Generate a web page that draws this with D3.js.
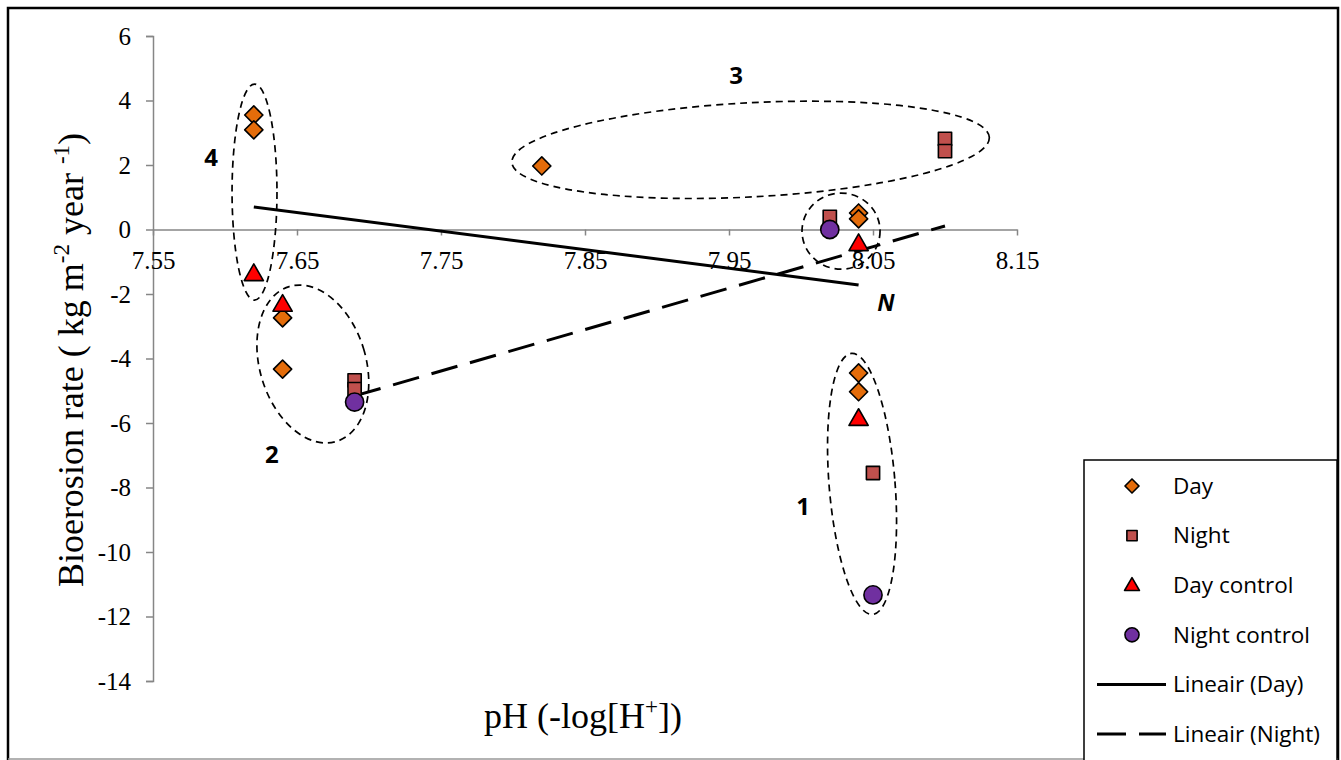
<!DOCTYPE html>
<html>
<head>
<meta charset="utf-8">
<script src="https://cdnjs.cloudflare.com/ajax/libs/d3/7.8.5/d3.min.js"></script>
<style>
  body { margin: 0; background: #fff; }
  svg { display: block; }
</style>
</head>
<body>
<div id="chart"></div>
<script>
// values: [pH, bioerosion rate]
var day = [[7.62, 3.55], [7.62, 3.09], [7.64, -2.74], [7.64, -4.33], [7.82, 1.97],
           [8.04, 0.51], [8.04, 0.33], [8.04, -4.45], [8.04, -5.03]];
var night = [[7.69, -4.68], [7.69, -4.95], [8.10, 2.81], [8.10, 2.43], [8.02, 0.39], [8.05, -7.55]];
var dayControl = [[7.62, -1.35], [7.64, -2.30], [8.04, -0.42], [8.04, -5.84]];
var nightControl = [[7.69, -5.35], [8.02, 0.0], [8.05, -11.33]];

// trend line end points (Excel "Lineair")
var dayTrend = [[7.62, 0.70], [8.04, -1.72]];
var nightTrend = [[7.69, -5.16], [8.10, 0.11]];

var xTicks = [7.55, 7.65, 7.75, 7.85, 7.95, 8.05, 8.15];
var yTicks = [6, 4, 2, 0, -2, -4, -6, -8, -10, -12, -14];

// group ellipses: centre [pH, rate], half widths in pH / rate units, tilt in degrees
var groups = [
  { label: "4", cx: 7.6205, cy: 1.16, rx: 0.0156, ry: 3.35, tilt: 0, lx: 7.5903, ly: 2.22 },
  { label: "2", cx: 7.661, cy: -4.17, rx: 0.0368, ry: 2.51, tilt: -17, lx: 7.6326, ly: -6.99 },
  { label: "3", cx: 7.965, cy: 2.47, rx: 0.166, ry: 1.46, tilt: -3, lx: 7.955, ly: 4.76 },
  { label: "", cx: 8.0278, cy: -0.05, rx: 0.0271, ry: 1.18, tilt: 0, lx: 0, ly: 0 },
  { label: "1", cx: 8.0424, cy: -7.89, rx: 0.0229, ry: 4.06, tilt: -4.6, lx: 8.0014, ly: -8.6 }
];

var legendNames = ["Day", "Night", "Day control", "Night control", "Lineair (Day)", "Lineair (Night)"];

var width = 1341,
    height = 760;

var svg = d3.select("#chart")
    .append("svg")
    .attr("width", width)
    .attr("height", height);

// outer frame
svg.append("path")
    .attr("d", "M8,760 L8,8 L1338,8 L1338,760")
    .attr("fill", "none")
    .attr("stroke", "#000")
    .attr("stroke-width", 2.5);
svg.append("line")
    .attr("x1", 8).attr("x2", 1338).attr("y1", 759).attr("y2", 759)
    .attr("stroke", "#999").attr("stroke-width", 1.5);

var x = d3.scaleLinear().domain([7.55, 8.15]).range([153, 1017]);
var y = d3.scaleLinear().domain([-14, 6]).range([681, 36]);

var axisColor = "#868686";
var serif = "'Liberation Serif', 'Times New Roman', serif";
var sans = "'Open Sans', 'Noto Sans', sans-serif";

// y axis (plain hyphen for negatives, like the original)
var yAxis = svg.append("g")
    .attr("transform", "translate(" + x(7.55) + ",0)")
    .call(d3.axisLeft(y).tickValues(yTicks).tickSize(7).tickSizeOuter(7)
        .tickFormat(function (d) { return String(d); }));
yAxis.selectAll("path, line").attr("stroke", axisColor).attr("stroke-width", 1.5);
yAxis.selectAll("text")
    .attr("x", -22)
    .style("font-family", serif)
    .style("font-size", "25px")
    .attr("fill", "#000");

// x axis on the zero line
var xAxis = svg.append("g")
    .attr("transform", "translate(0," + y(0) + ")")
    .call(d3.axisBottom(x).tickValues(xTicks).tickSize(6).tickSizeOuter(0).tickFormat(d3.format(".2f")));
xAxis.selectAll("path, line").attr("stroke", axisColor).attr("stroke-width", 1.5);
xAxis.selectAll("text")
    .attr("y", 22)
    .style("font-family", serif)
    .style("font-size", "25px")
    .attr("fill", "#000");

// axis titles
var yTitle = svg.append("text")
    .attr("transform", "translate(83,360) rotate(-90)")
    .attr("text-anchor", "middle")
    .style("font-family", serif)
    .style("font-size", "36px");
yTitle.append("tspan").text("Bioerosion rate ( kg m");
yTitle.append("tspan").attr("dy", -14).style("font-size", "23px").text("-2");
yTitle.append("tspan").attr("dy", 14).text(" year ");
yTitle.append("tspan").attr("dy", -14).style("font-size", "23px").text("-1");
yTitle.append("tspan").attr("dy", 14).text(")");

var xTitle = svg.append("text")
    .attr("x", 583)
    .attr("y", 728)
    .attr("text-anchor", "middle")
    .style("font-family", serif)
    .style("font-size", "36px");
xTitle.append("tspan").text("pH (-log[H");
xTitle.append("tspan").attr("dy", -14).style("font-size", "23px").text("+");
xTitle.append("tspan").attr("dy", 14).text("])");

// dashed group ellipses
var pxPerX = x(1) - x(0),
    pxPerY = y(0) - y(1);
svg.selectAll(".group")
    .data(groups)
    .enter().append("ellipse")
    .attr("class", "group")
    .attr("transform", function (d) {
        return "translate(" + x(d.cx) + "," + y(d.cy) + ") rotate(" + d.tilt + ")";
    })
    .attr("rx", function (d) { return d.rx * pxPerX; })
    .attr("ry", function (d) { return d.ry * pxPerY; })
    .attr("fill", "none")
    .attr("stroke", "#000")
    .attr("stroke-width", 1.7)
    .attr("stroke-dasharray", "7,5");

svg.selectAll(".group-label")
    .data(groups.filter(function (d) { return d.label !== ""; }))
    .enter().append("text")
    .attr("class", "group-label")
    .attr("x", function (d) { return x(d.lx); })
    .attr("y", function (d) { return y(d.ly); })
    .attr("dy", "0.35em")
    .attr("text-anchor", "middle")
    .style("font-family", sans)
    .style("font-weight", "bold")
    .style("font-size", "24px")
    .text(function (d) { return d.label; });

// trend lines
var line = d3.line()
    .x(function (d) { return x(d[0]); })
    .y(function (d) { return y(d[1]); });

svg.append("path")
    .datum(dayTrend)
    .attr("d", line)
    .attr("fill", "none")
    .attr("stroke", "#000")
    .attr("stroke-width", 3);

svg.append("path")
    .datum(nightTrend)
    .attr("d", line)
    .attr("fill", "none")
    .attr("stroke", "#000")
    .attr("stroke-width", 3)
    .attr("stroke-dasharray", "27,13");

svg.append("text")
    .attr("x", x(8.059))
    .attr("y", y(-2.28))
    .attr("dy", "0.35em")
    .attr("text-anchor", "middle")
    .style("font-family", sans)
    .style("font-weight", "bold")
    .style("font-style", "italic")
    .style("font-size", "23px")
    .text("N");

// markers (diamond = square turned 45 degrees)
var series = [
    { data: day, shape: d3.symbolSquare, size: 165, fill: "#E46C0A", rot: 45 },
    { data: night, shape: d3.symbolSquare, size: 175, fill: "#C0504D", rot: 0 },
    { data: dayControl, shape: d3.symbolTriangle, size: 160, fill: "#FF0000", rot: 0 },
    { data: nightControl, shape: d3.symbolCircle, size: 260, fill: "#7030A0", rot: 0 }
];

function drawSymbol(sel, s) {
    sel.attr("d", d3.symbol().type(s.shape).size(s.size))
        .attr("fill", s.fill)
        .attr("stroke", "#000")
        .attr("stroke-width", 1.6)
        .attr("stroke-linejoin", "round");
}

series.forEach(function (s, i) {
    svg.selectAll(".pt" + i)
        .data(s.data)
        .enter().append("path")
        .attr("class", "pt" + i)
        .attr("transform", function (d) {
            var yy = y(d[1]);
            if (s.shape === d3.symbolTriangle) yy += 2;
            return "translate(" + x(d[0]) + "," + yy + ") rotate(" + s.rot + ")";
        })
        .call(drawSymbol, s);
});

// legend
var legend = svg.append("g");
legend.append("rect")
    .attr("x", 1084).attr("y", 460)
    .attr("width", 253).attr("height", 310)
    .attr("fill", "#fff")
    .attr("stroke", "#000")
    .attr("stroke-width", 1.5);

var legendY = d3.scalePoint().domain(legendNames).range([486, 734]);

legendNames.forEach(function (name, i) {
    var ly = legendY(name);
    if (i < 4) {
        var s = series[i];
        var small = { shape: s.shape, size: s.size * 0.6, fill: s.fill };
        legend.append("path")
            .attr("transform", "translate(1132," + (ly + (i === 2 ? 1 : 0)) + ") rotate(" + s.rot + ")")
            .call(drawSymbol, small);
    } else {
        legend.append("line")
            .attr("x1", 1097).attr("x2", 1166)
            .attr("y1", ly).attr("y2", ly)
            .attr("stroke", "#000")
            .attr("stroke-width", 3)
            .attr("stroke-dasharray", i === 5 ? "29,13" : null);
    }
    legend.append("text")
        .attr("x", 1173)
        .attr("y", ly)
        .attr("dy", "0.35em")
        .style("font-family", sans)
        .style("font-size", "22.5px")
        .text(name);
});
</script>
</body>
</html>
